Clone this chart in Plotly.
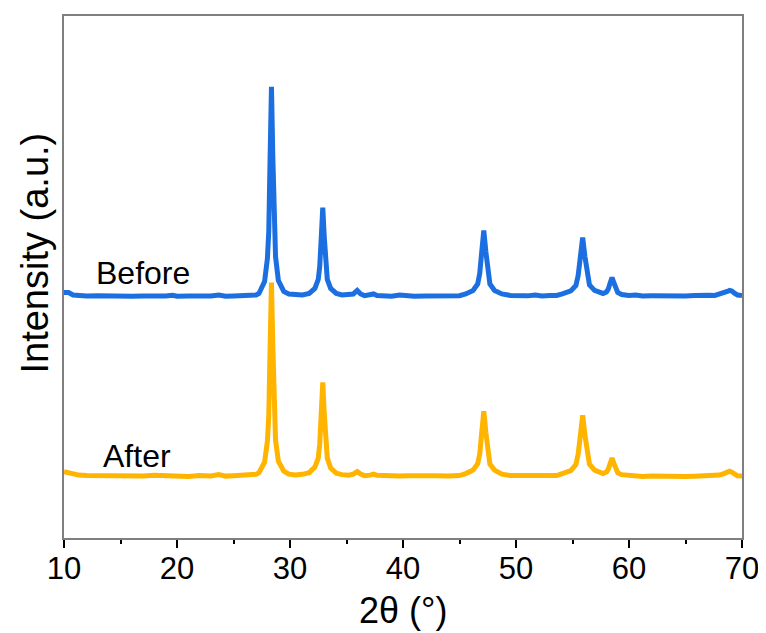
import plotly.graph_objects as go

# 2-theta grid (degrees), shared by both scans
two_theta = [10.0, 10.4, 10.8, 11.3, 12, 13, 14, 15, 16, 17, 18, 19, 19.6, 20, 21, 22, 23, 23.7, 24.3, 25, 26, 27,
             27.25, 27.75, 28.0, 28.12, 28.24, 28.36, 28.48, 28.6, 28.72, 28.97, 29.45,
             29.9, 30.5, 31.1,
             31.7, 32.2, 32.5, 32.63, 32.77, 32.9, 33.03, 33.17, 33.3, 33.6, 34.1,
             34.6, 35.2, 35.6, 35.95, 36.25, 36.6, 37.1, 37.4, 37.7, 38.3, 39, 39.7, 40.4, 41, 42, 43, 44, 45,
             45.55, 46.2, 46.61, 46.79, 46.97, 47.15, 47.33, 47.51, 47.69, 48.1, 48.75,
             49.5, 50.3, 51, 51.7, 52.3, 53, 53.6,
             54.1, 54.85, 55.3, 55.5, 55.7, 55.9, 56.1, 56.3, 56.5, 56.95, 57.7,
             58.0, 58.17, 58.33, 58.5, 58.67, 58.83, 59.0, 59.35,
             60, 60.6, 61.2, 62, 63, 64, 65, 65.8, 66.5, 67.1, 67.6,
             68.0, 68.4, 68.7, 68.9, 69.1, 69.3, 69.6, 70.0]

intensity_before = [4, 4, 1.5, 1, 0.5, 0.8, 0.3, 0.6, 0.2, 0.5, 0, 0.4, 1.2, 0.2, 0.5, 0, 0.4, 1.5, 0.3, 0.5, 0.8, 1.5,
                    3, 15, 38, 65, 140, 210, 140, 70, 40, 16, 5,
                    2.5, 1.5, 1.5,
                    3, 8, 17, 30, 60, 89, 60, 31, 17, 8, 3,
                    1.5, 1.5, 2.5, 6, 2.5, 0.8, 1.5, 2.5, 1, 0.5, 0.3, 1.5, 0.3, 0.2, 0.5, 0.3, 0.6, 0.8,
                    2.5, 6, 12.5, 23, 45, 66, 45, 23, 12.5, 6, 2.5,
                    1, 0.5, 0.6, 1.5, 0.5, 1, 1,
                    2.5, 5.5, 11, 21, 40, 59, 40, 21, 11.5, 6, 3,
                    4.5, 7.5, 13.5, 19, 13.5, 7.5, 4, 2,
                    1, 1.5, 0.5, 0.6, 0.3, 0.5, 0.4, 1, 1.5, 1.2, 1,
                    2, 3.5, 5, 6, 5.5, 3.5, 1.5, 1]

intensity_after = [4.5, 3.5, 2, 1, 0.5, 0.3, 0.8, 0, 0.4, 0.2, 0.8, 0.1, 0.8, 0.3, -0.3, 0.5, 0.2, 1.5, 0, 0.4, 1, 1.8,
                   3.5, 14, 35, 60, 130, 194, 130, 64, 36, 15, 5,
                   2, 1.2, 1.8,
                   3.5, 9, 18, 32, 63, 94, 63, 33, 18, 8, 3,
                   1.5, 1, 2, 4.5, 2, 0.5, 1, 2, 0.8, 0.2, 0.5, 0, 0.3, 0.6, 0.1, 0.4, 0.2, 0.6,
                   2.5, 6, 12.5, 22, 44, 65, 44, 23, 12, 6, 2,
                   0.6, 0.8, 0.3, 1.2, 0.2, 0.6, 0.5,
                   2.5, 5.5, 11.5, 22, 41, 61, 41, 22, 12, 6, 2.5,
                   4, 7, 12.5, 18, 12.5, 7, 3.5, 1.5,
                   0.5, 0.2, -0.3, 0, -0.5, -0.3, -0.5, -0.2, 0.3, 0, 0.5,
                   1, 2.5, 4, 5, 4, 2, 0.3, 0]

series_names = ["Before", "After"]
offsets = [242, 62]          # vertical stacking offset (a.u.)
colors = ["#1B6FE0", "#FFB400"]
x_tick_vals = [10, 20, 30, 40, 50, 60, 70]

assert len(two_theta) == len(intensity_before) == len(intensity_after)

FONT = "Liberation Sans, Arial, sans-serif"

fig = go.Figure()
for name, data, off, col in zip(series_names, [intensity_before, intensity_after], offsets, colors):
    fig.add_trace(go.Scatter(
        x=two_theta, y=[v + off for v in data], mode="lines", name=name,
        line=dict(color=col, width=5), showlegend=False))

label_pos = [(12.65, 266), (13.3, 82)]
for name, (lx, ly) in zip(series_names, label_pos):
    fig.add_annotation(x=lx, y=ly, xref="x", yref="y", text=name, showarrow=False,
                       xanchor="left", yanchor="middle",
                       font=dict(family=FONT, size=32, color="black"))

# axis titles as free text so they sit exactly as in the original
fig.add_annotation(x=0, y=0.545, xref="paper", yref="paper", xshift=-29, text="Intensity (a.u.)",
                   textangle=-90, showarrow=False, xanchor="center", yanchor="middle",
                   font=dict(family=FONT, size=38, color="black"))
fig.add_annotation(x=0.5, y=-0.138, xref="paper", yref="paper", text="2θ (°)",
                   showarrow=False, xanchor="center", yanchor="middle",
                   font=dict(family=FONT, size=36, color="black"))

fig.update_layout(
    width=766, height=633,
    margin=dict(l=56, r=32, t=8, b=103, autoexpand=False),
    paper_bgcolor="white", plot_bgcolor="white",
    font=dict(family=FONT, color="black"),
)
fig.update_xaxes(
    range=[10, 70], tickvals=x_tick_vals, ticks="outside", ticklen=8, tickwidth=1.5,
    tickcolor="black", showline=True, linecolor="#7f7f7f", linewidth=1.5, mirror=True,
    showgrid=False, zeroline=False, tickfont=dict(size=31, family=FONT), automargin=False,
    ticklabelstandoff=-6,
    minor=dict(dtick=5, ticks="outside", ticklen=4, tickwidth=1.5, tickcolor="black", showgrid=False),
)
fig.update_yaxes(
    range=[0, 523], showticklabels=False, ticks="", showline=True, linecolor="#7f7f7f",
    linewidth=1.5, mirror=True, showgrid=False, zeroline=False, automargin=False,
)

fig.write_html("out.html")
